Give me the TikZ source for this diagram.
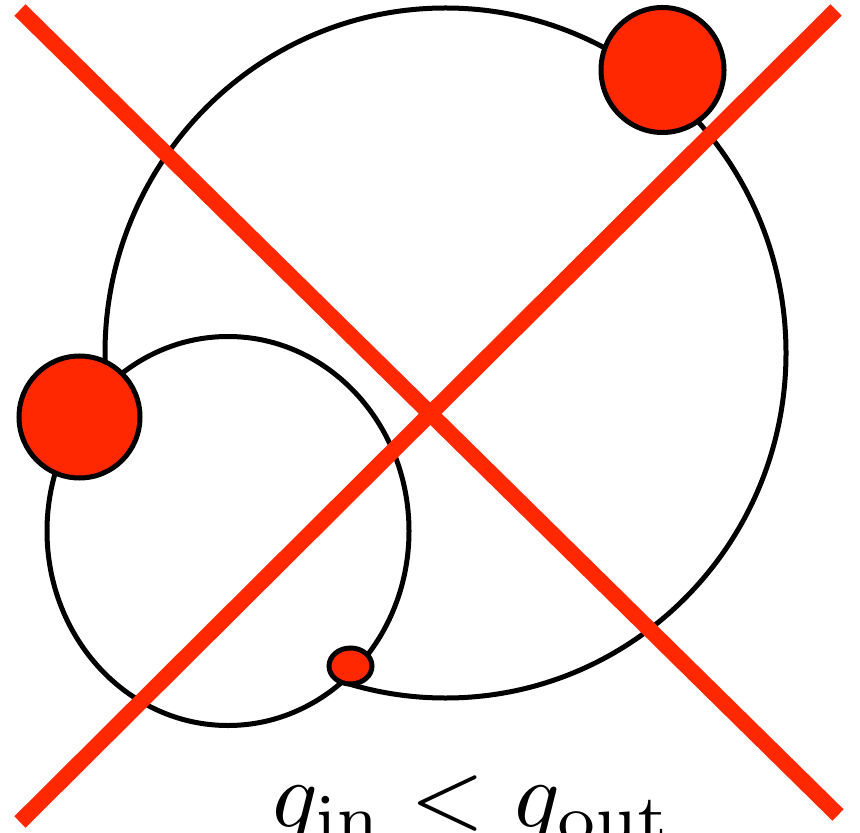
\documentclass[tikz,border=0pt]{standalone}
\definecolor{xred}{RGB}{255,40,0}
\tikzset{
  ring/.style={draw=black,line width=2.5pt},
  cross/.style={draw=xred,line width=8pt},
  blob/.style={draw=black,line width=2.5pt,fill=xred},
}
\begin{document}
\begin{tikzpicture}[x=0.5pt,y=-0.5pt]
\useasboundingbox (0,0) rectangle (860,833);
\begin{scope}[even odd rule]
  \clip (-10,-10) rectangle (870,843) (228,531) ellipse [x radius=181, y radius=194.5];
  \path[ring] (445.5,353) ellipse [x radius=340.5, y radius=345];
\end{scope}
\path[ring] (228,531) ellipse [x radius=181, y radius=194.5];
\coordinate (a1) at (20,10);
\coordinate (a2) at (838,815);
\coordinate (b1) at (836,10);
\coordinate (b2) at (20,822);
\draw[cross] (a1) -- (a2);
\draw[cross] (b1) -- (b2);
\path[blob] (662.5,70) ellipse [x radius=61.5, y radius=62.5];
\path[blob] (79.5,417) ellipse [x radius=60.5, y radius=61];
\path[blob] (350.5,666) ellipse [x radius=21.5, y radius=18];
\node[anchor=base,inner sep=0pt] (lbl) at (471,827) {\scalebox{4.79}{$g_{\mathrm{in}} < g_{\mathrm{out}}$}};
\end{tikzpicture}
\end{document}
